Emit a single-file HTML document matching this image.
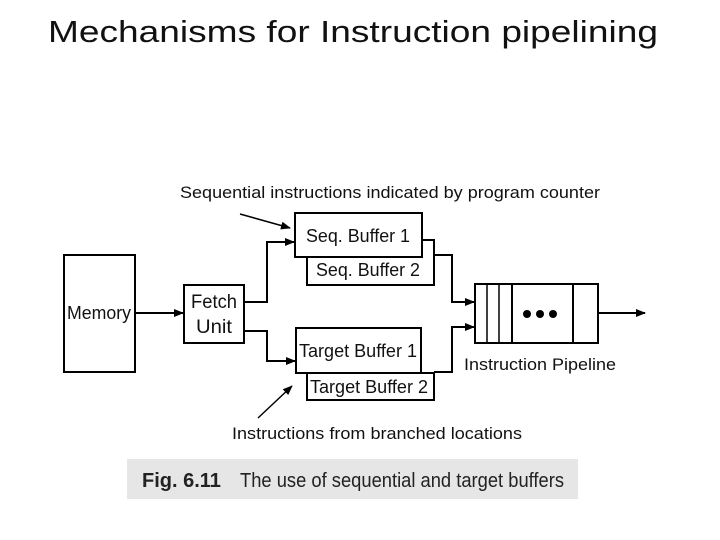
<!DOCTYPE html>
<html><head><style>
html,body{margin:0;padding:0;background:#fff;}
svg{display:block;}
text{font-family:"Liberation Sans",sans-serif;}
</style></head><body>
<svg width="720" height="540" viewBox="0 0 720 540" xmlns="http://www.w3.org/2000/svg">
<defs><marker id="a" markerWidth="10" markerHeight="8" refX="9" refY="4" orient="auto" markerUnits="userSpaceOnUse"><path d="M0,0 L10,4 L0,8 z" fill="#000"/></marker></defs>
<text x="353" y="42" font-size="31" text-anchor="middle" textLength="610" lengthAdjust="spacingAndGlyphs" fill="#111">Mechanisms for Instruction pipelining</text>
<g fill="none" stroke="#000" stroke-width="2">
<rect x="64" y="255" width="71" height="117" fill="#fff"/>
<rect x="184" y="285" width="60" height="58" fill="#fff"/>
<rect x="307" y="240" width="127" height="45" fill="#fff"/>
<rect x="295" y="213" width="127" height="44" fill="#fff"/>
<rect x="307" y="373" width="127" height="27" fill="#fff"/>
<rect x="296" y="328" width="125" height="45" fill="#fff"/>
<rect x="475" y="284" width="123" height="59" fill="#fff"/>
<line x1="487" y1="284" x2="487" y2="343" stroke-width="1.5"/>
<line x1="499" y1="284" x2="499" y2="343" stroke-width="1.5"/>
<line x1="512" y1="284" x2="512" y2="343"/>
<line x1="573" y1="284" x2="573" y2="343"/>
<line x1="135" y1="313" x2="183" y2="313" marker-end="url(#a)"/>
<polyline points="244,302 267,302 267,242 294,242" marker-end="url(#a)"/>
<polyline points="244,331 267,331 267,361 295,361" marker-end="url(#a)"/>
<polyline points="434,255 452,255 452,302 474,302" marker-end="url(#a)"/>
<polyline points="434,372 452,372 452,327 474,327" marker-end="url(#a)"/>
<line x1="598" y1="313" x2="645" y2="313" marker-end="url(#a)"/>
<line x1="240" y1="214" x2="290" y2="228" stroke-width="1.5" marker-end="url(#a)"/>
<line x1="258" y1="418" x2="292" y2="386" stroke-width="1.5" marker-end="url(#a)"/>
</g>
<g fill="#000"><circle cx="527" cy="314" r="4"/><circle cx="540" cy="314" r="4"/><circle cx="553" cy="314" r="4"/></g>
<g font-size="17" fill="#111">
<text x="180" y="198" textLength="420" lengthAdjust="spacingAndGlyphs">Sequential instructions indicated by program counter</text>
<text x="99" y="319" text-anchor="middle" font-size="18" textLength="64" lengthAdjust="spacingAndGlyphs">Memory</text>
<text x="214" y="308" text-anchor="middle" font-size="19" textLength="46" lengthAdjust="spacingAndGlyphs">Fetch</text>
<text x="214" y="333" text-anchor="middle" font-size="19" textLength="36" lengthAdjust="spacingAndGlyphs">Unit</text>
<text x="358" y="242" text-anchor="middle" font-size="18" textLength="104" lengthAdjust="spacingAndGlyphs">Seq. Buffer 1</text>
<text x="368" y="276" text-anchor="middle" font-size="18" textLength="104" lengthAdjust="spacingAndGlyphs">Seq. Buffer 2</text>
<text x="358" y="357" text-anchor="middle" font-size="18" textLength="118" lengthAdjust="spacingAndGlyphs">Target Buffer 1</text>
<text x="369" y="393" text-anchor="middle" font-size="18" textLength="118" lengthAdjust="spacingAndGlyphs">Target Buffer 2</text>
<text x="464" y="370" textLength="152" lengthAdjust="spacingAndGlyphs">Instruction Pipeline</text>
<text x="232" y="439" textLength="290" lengthAdjust="spacingAndGlyphs">Instructions from branched locations</text>
</g>
<rect x="127" y="459" width="451" height="40" fill="#e6e6e6"/>
<text x="142" y="487" font-size="20" font-weight="bold" fill="#222">Fig. 6.11</text>
<text x="240" y="487" font-size="20" fill="#222" textLength="324" lengthAdjust="spacingAndGlyphs">The use of sequential and target buffers</text>
</svg>
</body></html>
